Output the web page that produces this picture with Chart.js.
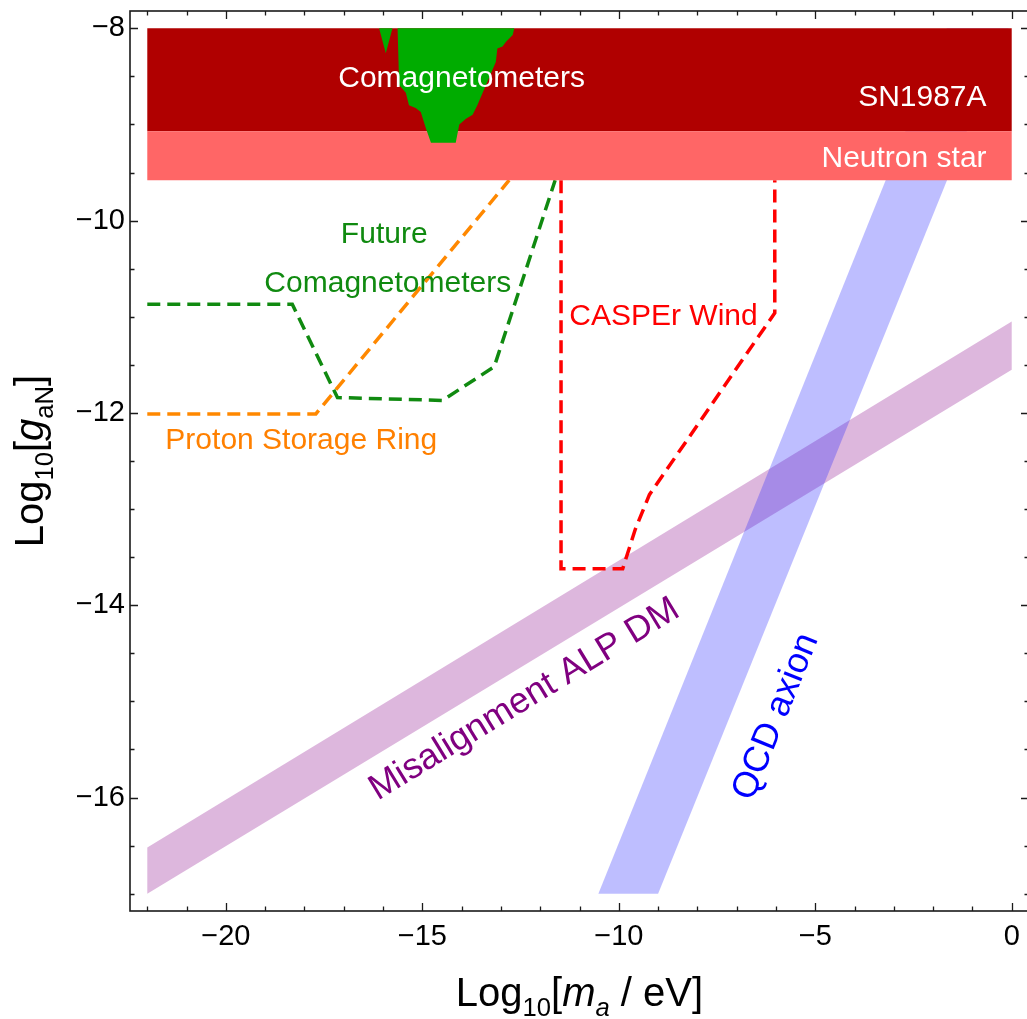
<!DOCTYPE html>
<html>
<head>
<meta charset="utf-8">
<script src="https://cdn.jsdelivr.net/npm/chart.js@4.4.0/dist/chart.umd.min.js"></script>
<style>
  html, body { margin: 0; padding: 0; background: #fff; overflow: hidden; }
  #wrap { width: 1032px; height: 1019px; }
</style>
</head>
<body>
<div id="wrap"><canvas id="chart"></canvas></div>
<script>
// tick labels
var xTickLabels = [-20, -15, -10, -5, 0]
var yTickLabels = [-16, -14, -12, -10, -8]

// astrophysical bounds, flat over the mass range
var boundMass = [-22, 0]
var sn1987aG = [-9.07, -8]
var neutronStarG = [-9.58, -9.07]

// existing comagnetometer limit (green patch)
var comagMass = [-16.10, -15.93, -15.76, -15.63, -15.59, -15.42, -15.34, -15.17, -15.04, -14.91, -14.78,
                 -14.15, -14.06, -13.89, -13.72, -13.60, -13.38, -13.13, -13.09, -12.96, -12.87, -12.70, -12.66, -16.10]
var comagG = [-8, -8.26, -8, -8, -8.59, -8.67, -8.80, -8.83, -8.87, -9.04, -9.19,
              -9.19, -9.00, -8.94, -8.90, -8.80, -8.59, -8.35, -8.21, -8.19, -8.14, -8.07, -8, -8]

// projections (dashed)
var futureComagMass = [-22, -18.31, -17.16, -14.49, -13.17, -11.62]
var futureComagG = [-10.87, -10.87, -11.84, -11.87, -11.52, -9.58]

var protonRingMass = [-22, -17.71, -12.79]
var protonRingG = [-12.01, -12.01, -9.58]

var casperMass = [-11.47, -11.47, -9.90, -9.58, -9.22, -6.03, -6.03]
var casperG = [-9.58, -13.62, -13.62, -13.21, -12.85, -10.96, -9.58]

// theory bands
var alpMass = [-22, 0]
var alpUpperG = [-16.52, -11.05]
var alpLowerG = [-17.0, -11.55]

var qcdG = [-17, -8]
var qcdLeftMass = [-10.52, -1.65]
var qcdRightMass = [-9.0, -0.08]

var labels = [
  {text: 'Comagnetometers', x: -14.0, y: -8.61, color: '#ffffff', align: 'center', size: 30},
  {text: 'SN1987A', x: -0.64, y: -8.81, color: '#ffffff', align: 'right', size: 30},
  {text: 'Neutron star', x: -0.64, y: -9.44, color: '#ffffff', align: 'right', size: 30},
  {text: 'Future', x: -15.97, y: -10.23, color: '#108a10', align: 'center', size: 30},
  {text: 'Comagnetometers', x: -15.88, y: -10.74, color: '#108a10', align: 'center', size: 30},
  {text: 'Proton Storage Ring', x: -21.54, y: -12.38, color: '#ff8000', align: 'left', size: 30},
  {text: 'CASPEr Wind', x: -11.26, y: -11.09, color: '#ff0000', align: 'left', size: 30},
  {text: 'Misalignment ALP DM', x: -12.4, y: -14.98, color: '#800080', align: 'center', size: 36, slope: 0.25},
  {text: 'QCD axion', x: -6.0, y: -15.16, color: '#0000ff', align: 'center', size: 36, slope: 1.01}
]

function pts(xs, ys) {
  return xs.map(function (x, i) { return {x: x, y: ys[i]} })
}
function rect(xs, ys) {
  return pts([xs[0], xs[1], xs[1], xs[0], xs[0]], [ys[0], ys[0], ys[1], ys[1], ys[0]])
}
function patch(data, color) {
  return {data: data, backgroundColor: color, borderWidth: 0, borderColor: color, fill: 'shape', pointRadius: 0, tension: 0}
}
function dashed(data, color) {
  return {data: data, borderColor: color, borderWidth: 3.5, borderDash: [13, 7], fill: false, pointRadius: 0, tension: 0}
}

var alpBand = pts([alpMass[0], alpMass[1], alpMass[1], alpMass[0], alpMass[0]],
                  [alpUpperG[0], alpUpperG[1], alpLowerG[1], alpLowerG[0], alpUpperG[0]])
var qcdBand = pts([qcdLeftMass[0], qcdLeftMass[1], qcdRightMass[1], qcdRightMass[0], qcdLeftMass[0]],
                  [qcdG[0], qcdG[1], qcdG[1], qcdG[0], qcdG[0]])

// first dataset ends up on top
var datasets = [
  patch(pts(comagMass, comagG), 'rgb(0,172,0)'),
  patch(rect(boundMass, neutronStarG), 'rgb(255,102,102)'),
  patch(rect(boundMass, sn1987aG), 'rgb(176,0,0)'),
  dashed(pts(casperMass, casperG), 'rgb(255,0,0)'),
  dashed(pts(futureComagMass, futureComagG), 'rgb(16,138,16)'),
  dashed(pts(protonRingMass, protonRingG), 'rgb(255,136,0)'),
  patch(qcdBand, 'rgba(40,40,255,0.3)'),
  patch(alpBand, 'rgba(150,30,150,0.32)')
]

var FONT = '"Liberation Sans", Arial, sans-serif'

function minus(v) { return v < 0 ? '\u2212' + Math.abs(v) : String(v) }

function fontFor(flags, size) {
  var s = flags.indexOf('sub') >= 0 ? size * 0.64 : size
  return (flags.indexOf('i') === 0 ? 'italic ' : '') + s + 'px ' + FONT
}
function richText(ctx, parts, x, y, size) {
  var widths = parts.map(function (p) { ctx.font = fontFor(p[1], size); return ctx.measureText(p[0]).width })
  var total = widths.reduce(function (s, w) { return s + w }, 0)
  var cx = x - total / 2
  ctx.textAlign = 'left'
  ctx.textBaseline = 'alphabetic'
  parts.forEach(function (p, i) {
    ctx.font = fontFor(p[1], size)
    var dy = p[1].indexOf('sub') >= 0 ? size * 0.25 : 0
    ctx.fillText(p[0], cx, y + dy)
    cx += widths[i]
  })
}

var decor = {
  id: 'decor',
  afterDatasetsDraw: function (chart) {
    var ctx = chart.ctx, a = chart.chartArea, sx = chart.scales.x, sy = chart.scales.y
    ctx.save()
    // annotations
    ctx.textBaseline = 'alphabetic'
    labels.forEach(function (l) {
      ctx.save()
      ctx.font = l.size + 'px ' + FONT
      ctx.fillStyle = l.color
      ctx.textAlign = l.align
      ctx.translate(sx.getPixelForValue(l.x), sy.getPixelForValue(l.y))
      if (l.slope) {
        var pxSlope = l.slope * (sy.getPixelForValue(0) - sy.getPixelForValue(1)) / (sx.getPixelForValue(1) - sx.getPixelForValue(0))
        ctx.rotate(-Math.atan(pxSlope))
        ctx.textBaseline = 'middle'
      }
      ctx.fillText(l.text, 0, 0)
      ctx.restore()
    })
    // frame and inward ticks
    ctx.strokeStyle = '#1a1a1a'
    ctx.lineWidth = 1.6
    ctx.strokeRect(a.left, a.top, a.right - a.left, a.bottom - a.top)
    ctx.lineWidth = 1.3
    ctx.beginPath()
    for (var v = -22; v <= 0; v++) {
      var len = v % 5 === 0 ? 8 : 4.5
      var px = Math.round(sx.getPixelForValue(v)) + 0.5
      ctx.moveTo(px, a.bottom); ctx.lineTo(px, a.bottom - len)
      ctx.moveTo(px, a.top); ctx.lineTo(px, a.top + len)
    }
    for (var k = -34; k <= -16; k++) {
      var g = k / 2
      var ylen = (g % 2 === 0) ? 8 : 4.5
      var py = Math.round(sy.getPixelForValue(g)) + 0.5
      ctx.moveTo(a.left, py); ctx.lineTo(a.left + ylen, py)
      ctx.moveTo(a.right, py); ctx.lineTo(a.right - ylen, py)
    }
    ctx.stroke()
    // axis titles
    ctx.fillStyle = '#000'
    richText(ctx, [['Log', 'n'], ['10', 'sub'], ['[', 'n'], ['m', 'i'], ['a', 'isub'], [' / eV]', 'n']],
      (a.left + 1029) / 2, 1006, 40)
    ctx.translate(43, (a.top + a.bottom) / 2)
    ctx.rotate(-Math.PI / 2)
    richText(ctx, [['Log', 'n'], ['10', 'sub'], ['[', 'n'], ['g', 'i'], ['aN', 'sub'], [']', 'n']], 0, 0, 40)
    ctx.restore()
  }
}

new Chart(document.getElementById('chart').getContext('2d'), {
  type: 'line',
  data: {datasets: datasets},
  options: {
    responsive: true,
    maintainAspectRatio: false,
    animation: false,
    events: [],
    layout: {padding: {top: 11, right: 3, left: 0, bottom: 0}, autoPadding: false},
    plugins: {legend: {display: false}, tooltip: {enabled: false}},
    scales: {
      x: {
        type: 'linear',
        min: -22.44,
        max: 0.44,
        grid: {display: false, drawTicks: false},
        border: {display: false},
        afterFit: function (s) { s.height = 108; s.paddingLeft = 0; s.paddingRight = 0 },
        afterBuildTicks: function (s) { s.ticks = xTickLabels.map(function (v) { return {value: v} }) },
        ticks: {padding: 9, color: '#000', font: {family: FONT, size: 29}, maxRotation: 0, autoSkip: false, callback: minus}
      },
      y: {
        type: 'linear',
        min: -17.18,
        max: -7.82,
        grid: {display: false, drawTicks: false},
        border: {display: false},
        afterFit: function (s) { s.width = 130; s.paddingTop = 0; s.paddingBottom = 0 },
        afterBuildTicks: function (s) { s.ticks = yTickLabels.map(function (v) { return {value: v} }) },
        ticks: {padding: 5, color: '#000', font: {family: FONT, size: 29}, autoSkip: false, callback: minus}
      }
    }
  },
  plugins: [decor]
})
</script>
</body>
</html>
